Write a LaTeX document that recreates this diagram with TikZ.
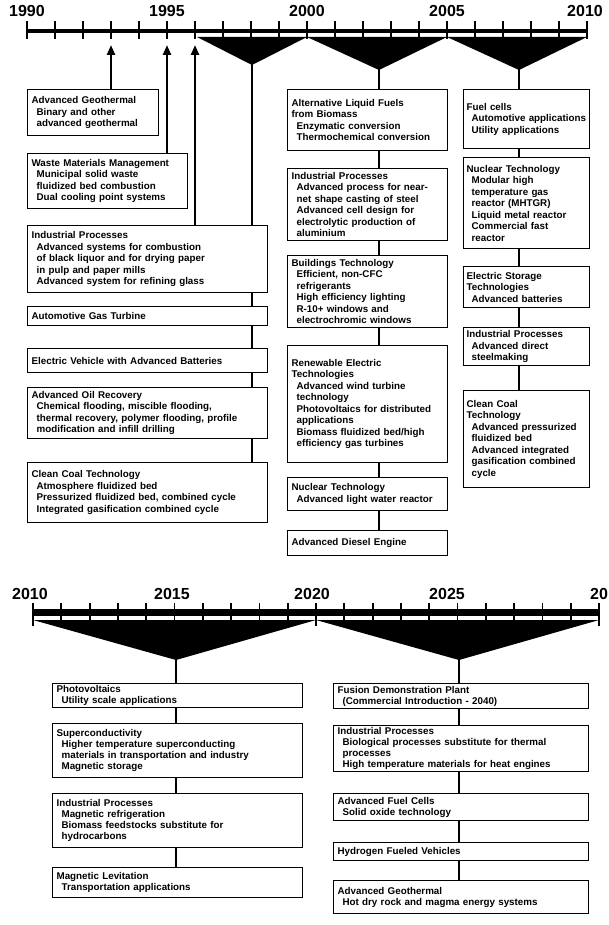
\documentclass[tikz,border=0pt]{standalone}
\usepackage{fontspec}
\setmainfont{Liberation Sans}
\usetikzlibrary{arrows.meta,positioning}

\newcommand{\subline}{\hspace*{5pt}}

\tikzset{
  box/.style={draw, line width=1.2pt, anchor=north west, align=left,
    inner xsep=4pt, inner ysep=2pt, font=\fontsize{9.8}{11.5}\selectfont\bfseries},
  narrowbox/.style={box, inner xsep=3pt},
  lowbox/.style={box, font=\fontsize{9.8}{10.8}\selectfont\bfseries},
  stem/.style={line width=2.2pt},
  arr/.style={line width=2.4pt, -{Triangle[length=10pt,width=8pt]}},
  year/.style={font=\fontsize{16}{16}\selectfont\bfseries, inner sep=0pt},
  tick/.style={line width=1.8pt},
}

\begin{document}
\begin{tikzpicture}[x=1pt, y=-1pt]
  \useasboundingbox (0,0) rectangle (608,925);

  % upper time axis, 1990 - 2010
  \draw[line width=4pt] (27,31.5) -- (587,31.5);
  \foreach \i in {0,...,20}
    \draw[tick] (27+28*\i,21) -- (27+28*\i,39);
  \fill (197,37) -- (307,37) -- (252,65) -- cycle;
  \fill (307,37) -- (447,37) -- (379,70) -- cycle;
  \fill (447,37) -- (587,37) -- (519,70) -- cycle;

  \node (y1990) [year] at (27,11) {1990};
  \node (y1995) [year] at (167,11) {1995};
  \node (y2000) [year] at (307,11) {2000};
  \node (y2005) [year] at (447,11) {2005};
  \node (y2010) [year] at (585,11) {2010};

  \coordinate (a93) at (111,45);
  \coordinate (a95) at (167,45);
  \coordinate (a96) at (195,45);
  \coordinate (vA) at (252,64);
  \coordinate (vB) at (379,69);
  \coordinate (vC) at (519,69);

  % left column
  \node (agm) [box, text width=123pt, minimum height=46pt] at (27,89)
    {Advanced Geothermal\\ \subline Binary and other\\ \subline advanced geothermal};
  \node (wmm) [box, text width=152pt, minimum height=55pt] at (27,153)
    {Waste Materials Management\\ \subline Municipal solid waste\\
     \subline fluidized bed combustion\\ \subline Dual cooling point systems};
  \node (ipl) [box, text width=232pt, minimum height=67pt] at (27,225)
    {Industrial Processes\\ \subline Advanced systems for combustion\\
     \subline of black liquor and for drying paper\\ \subline in pulp and paper mills\\
     \subline Advanced system for refining glass};
  \node (agt) [box, text width=232pt, minimum height=19pt] at (27,306)
    {Automotive Gas Turbine};
  \node (ev) [box, text width=232pt, minimum height=24pt] at (27,348)
    {Electric Vehicle with Advanced Batteries};
  \node (aor) [box, text width=232pt, minimum height=51pt] at (27,387)
    {Advanced Oil Recovery\\ \subline Chemical flooding, miscible flooding,\\
     \subline thermal recovery, polymer flooding, profile\\
     \subline modification and infill drilling};
  \node (ccl) [box, text width=232pt, minimum height=60pt] at (27,462)
    {Clean Coal Technology\\ \subline Atmosphere fluidized bed\\
     \subline Pressurized fluidized bed, combined cycle\\
     \subline Integrated gasification combined cycle};

  % middle column
  \node (alf) [box, text width=152pt, minimum height=61pt] at (287,89)
    {Alternative Liquid Fuels\\ from Biomass\\ \subline Enzymatic conversion\\
     \subline Thermochemical conversion};
  \node (ipm) [box, text width=152pt, minimum height=72pt] at (287,168)
    {Industrial Processes\\ \subline Advanced process for near-\\
     \subline net shape casting of steel\\ \subline Advanced cell design for\\
     \subline electrolytic production of\\ \subline aluminium};
  \node (bt) [box, text width=152pt, minimum height=72pt] at (287,255)
    {Buildings Technology\\ \subline Efficient, non-CFC\\ \subline refrigerants\\
     \subline High efficiency lighting\\ \subline R-10+ windows and\\
     \subline electrochromic windows};
  \node (ret) [box, text width=152pt, minimum height=117pt] at (287,345)
    {Renewable Electric\\ Technologies\\ \subline Advanced wind turbine\\
     \subline technology\\ \subline Photovoltaics for distributed\\
     \subline applications\\ \subline Biomass fluidized bed/high\\
     \subline efficiency gas turbines};
  \node (ntm) [box, text width=152pt, minimum height=33pt] at (287,477)
    {Nuclear Technology\\ \subline Advanced light water reactor};
  \node (ade) [box, text width=152pt, minimum height=25pt] at (287,530)
    {Advanced Diesel Engine};

  % right column
  \node (fc) [narrowbox, text width=120pt, minimum height=59pt] at (463,89)
    {Fuel cells\\ \subline Automotive applications\\ \subline Utility applications};
  \node (ntr) [narrowbox, text width=120pt, minimum height=91pt] at (463,157)
    {Nuclear Technology\\ \subline Modular high\\ \subline temperature gas\\
     \subline reactor (MHTGR)\\ \subline Liquid metal reactor\\
     \subline Commercial fast\\ \subline reactor};
  \node (est) [narrowbox, text width=120pt, minimum height=41pt] at (463,266)
    {Electric Storage\\ Technologies\\ \subline Advanced batteries};
  \node (ipr) [narrowbox, text width=120pt, minimum height=38pt] at (463,327)
    {Industrial Processes\\ \subline Advanced direct\\ \subline steelmaking};
  \node (cct) [narrowbox, text width=120pt, minimum height=97pt] at (463,390)
    {Clean Coal\\ Technology\\ \subline Advanced pressurized\\
     \subline fluidized bed\\ \subline Advanced integrated\\
     \subline gasification combined\\ \subline cycle};

  % connectors, upper part
  \draw[arr] (agm.north -| a93) -- (a93);
  \draw[arr] (wmm.north -| a95) -- (a95);
  \draw[arr] (ipl.north -| a96) -- (a96);
  \draw[stem] (vA) -- (ipl.north -| vA);
  \foreach \u/\v in {ipl/agt, agt/ev, ev/aor, aor/ccl}
    \draw[stem] (\u.south -| vA) -- (\v.north -| vA);
  \draw[stem] (vB) -- (alf.north -| vB);
  \foreach \u/\v in {alf/ipm, ipm/bt, bt/ret, ret/ntm, ntm/ade}
    \draw[stem] (\u.south -| vB) -- (\v.north -| vB);
  \draw[stem] (vC) -- (fc.north -| vC);
  \foreach \u/\v in {fc/ntr, ntr/est, est/ipr, ipr/cct}
    \draw[stem] (\u.south -| vC) -- (\v.north -| vC);

  % lower time axis, 2010 - 2030
  \draw[line width=7pt] (33,612.5) -- (599,612.5);
  \foreach \i in {0,...,20}
    \draw[tick] (33+28.3*\i,603) -- (33+28.3*\i,626);
  \fill (33,620) -- (316,620) -- (176,660) -- cycle;
  \fill (316,620) -- (599,620) -- (459,660) -- cycle;

  \node (z2010) [year] at (30,594) {2010};
  \node (z2015) [year] at (172,594) {2015};
  \node (z2020) [year] at (312,594) {2020};
  \node (z2025) [year] at (447,594) {2025};
  \node (z2030) [year, anchor=west] at (590,594) {20};

  \coordinate (vD) at (176,659);
  \coordinate (vE) at (459,659);

  % lower left column
  \node (pv) [lowbox, text width=242pt, minimum height=22pt] at (52,683)
    {Photovoltaics\\ \subline Utility scale applications};
  \node (sc) [lowbox, text width=242pt, minimum height=54pt] at (52,723)
    {Superconductivity\\ \subline Higher temperature superconducting\\
     \subline materials in transportation and industry\\ \subline Magnetic storage};
  \node (ipb) [lowbox, text width=242pt, minimum height=54pt] at (52,793)
    {Industrial Processes\\ \subline Magnetic refrigeration\\
     \subline Biomass feedstocks substitute for\\ \subline hydrocarbons};
  \node (ml) [lowbox, text width=242pt, minimum height=30pt] at (52,867)
    {Magnetic Levitation\\ \subline Transportation applications};

  % lower right column
  \node (fdp) [lowbox, text width=247pt, minimum height=25pt] at (333,683)
    {Fusion Demonstration Plant\\ \subline (Commercial Introduction - 2040)};
  \node (ipt) [lowbox, text width=247pt, minimum height=42pt] at (333,725)
    {Industrial Processes\\ \subline Biological processes substitute for thermal\\
     \subline processes\\ \subline High temperature materials for heat engines};
  \node (afc) [lowbox, text width=247pt, minimum height=27pt] at (333,793)
    {Advanced Fuel Cells\\ \subline Solid oxide technology};
  \node (hfv) [lowbox, text width=247pt, minimum height=18pt] at (333,842)
    {Hydrogen Fueled Vehicles};
  \node (agb) [lowbox, text width=247pt, minimum height=33pt] at (333,880)
    {Advanced Geothermal\\ \subline Hot dry rock and magma energy systems};

  % connectors, lower part
  \draw[stem] (vD) -- (pv.north -| vD);
  \foreach \u/\v in {pv/sc, sc/ipb, ipb/ml}
    \draw[stem] (\u.south -| vD) -- (\v.north -| vD);
  \draw[stem] (vE) -- (fdp.north -| vE);
  \foreach \u/\v in {fdp/ipt, ipt/afc, afc/hfv, hfv/agb}
    \draw[stem] (\u.south -| vE) -- (\v.north -| vE);
\end{tikzpicture}
\end{document}
